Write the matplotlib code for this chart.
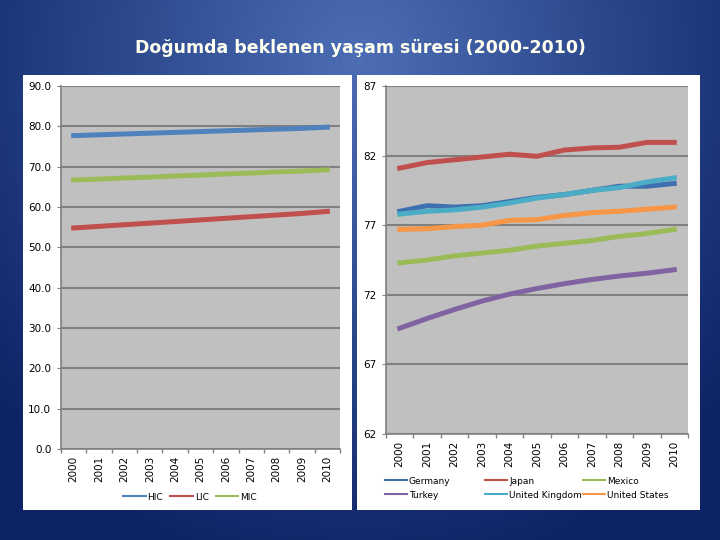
import numpy as np
import matplotlib
matplotlib.use("Agg")
import matplotlib.pyplot as plt
from matplotlib.patches import Rectangle

# ---- data ----
years = [str(y) for y in range(2000, 2011)]

# income groups (left chart)
hic = [77.7, 77.9, 78.1, 78.3, 78.5, 78.7, 78.9, 79.1, 79.3, 79.5, 79.8]
lic = [54.8, 55.2, 55.6, 56.0, 56.4, 56.8, 57.2, 57.6, 58.0, 58.4, 58.9]
mic = [66.7, 66.9, 67.2, 67.4, 67.7, 67.9, 68.2, 68.4, 68.7, 68.9, 69.2]

# countries (right chart)
germany = [78.0, 78.4, 78.3, 78.4, 78.7, 79.0, 79.2, 79.5, 79.8, 79.8, 80.0]
japan = [81.1, 81.5, 81.7, 81.9, 82.1, 81.95, 82.4, 82.55, 82.6, 82.95, 82.95]
mexico = [74.3, 74.5, 74.8, 75.0, 75.2, 75.5, 75.7, 75.9, 76.2, 76.4, 76.7]
turkey = [69.6, 70.3, 70.95, 71.55, 72.05, 72.45, 72.8, 73.1, 73.35, 73.55, 73.8]
uk = [77.8, 78.0, 78.1, 78.3, 78.6, 78.95, 79.2, 79.5, 79.7, 80.1, 80.4]
usa = [76.7, 76.75, 76.9, 77.0, 77.35, 77.4, 77.7, 77.9, 78.0, 78.15, 78.3]

title = "Doğumda beklenen yaşam süresi (2000-2010)"

plt.rcParams["font.family"] = "DejaVu Sans"

fig = plt.figure(figsize=(7.2, 5.4), dpi=100)

# background radial gradient
bg = fig.add_axes([0, 0, 1, 1], zorder=-10)
yy, xx = np.mgrid[0:540, 0:720]
d = np.sqrt(((xx - 360) / 480.0) ** 2 + ((yy - 60) / 520.0) ** 2)
d = np.clip(d, 0, 1)
c0 = np.array([0.30, 0.43, 0.71])
c1 = np.array([0.05, 0.14, 0.40])
img = c0[None, None, :] * (1 - d[..., None]) + c1[None, None, :] * d[..., None]
bg.imshow(img, aspect="auto", extent=[0, 1, 0, 1])
bg.set_axis_off()

# white chart panels
for x0, w in [(23, 329), (357, 343)]:
    fig.add_artist(Rectangle((x0 / 720, 1 - 510 / 540), w / 720, 435 / 540,
                             transform=fig.transFigure, facecolor="white",
                             edgecolor="none", zorder=-5))

fig.text(0.5, 1 - 48 / 540, title, ha="center", va="center",
         color="#FFFFF0", fontsize=12.5, fontweight="bold")

blue = "#4F81BD"
red = "#C0504D"
green = "#9BBB59"
purple = "#8064A2"
aqua = "#4BACC6"
orange = "#F79646"


def style_axes(ax, ylo, yhi, step, fmt):
    ax.set_facecolor("#C0C0C0")
    x = np.arange(len(years))
    ax.set_xlim(-0.5, len(years) - 0.5)
    ax.set_ylim(ylo, yhi)
    ax.set_yticks(np.arange(ylo, yhi + 0.01, step))
    ax.set_yticklabels([fmt.format(v) for v in np.arange(ylo, yhi + 0.01, step)])
    ax.set_xticks(x)
    ax.set_xticklabels(years, rotation=90)
    ax.set_xticks(np.arange(-0.5, len(years)), minor=True)
    ax.tick_params(axis="x", which="major", length=0, pad=5, labelsize=7.5)
    ax.tick_params(axis="x", which="minor", length=3, color="#808080", width=1)
    ax.tick_params(axis="y", length=3, color="#808080", labelsize=7.5, pad=4)
    ax.yaxis.grid(True, color="#808080", linewidth=1.5)
    ax.set_axisbelow(True)
    for s in ["top", "right"]:
        ax.spines[s].set_visible(False)
    for s in ["left", "bottom"]:
        ax.spines[s].set_color("#808080")
        ax.spines[s].set_linewidth(1.2)


# ---- left chart ----
ax1 = fig.add_axes([61 / 720, 1 - 449 / 540, 279 / 720, 363 / 540])
style_axes(ax1, 0, 90, 10, "{:.1f}")
x = np.arange(len(years))
ax1.plot(x, hic, color=blue, lw=3.6, label="HIC")
ax1.plot(x, lic, color=red, lw=3.6, label="LIC")
ax1.plot(x, mic, color=green, lw=3.6, label="MIC")
leg1 = ax1.legend(loc="center", bbox_to_anchor=(190 / 720, 1 - 497 / 540),
                  bbox_transform=fig.transFigure, ncol=3, frameon=False,
                  fontsize=6.5, handlelength=2.5, handletextpad=0.2,
                  columnspacing=0.8)
for ln in leg1.get_lines():
    ln.set_linewidth(1.5)

# ---- right chart ----
ax2 = fig.add_axes([386 / 720, 1 - 434 / 540, 302 / 720, 348 / 540])
style_axes(ax2, 62, 87, 5, "{:.0f}")
ax2.plot(x, germany, color="#3F6FAE", lw=3.6, label="Germany")
ax2.plot(x, japan, color=red, lw=3.6, label="Japan")
ax2.plot(x, mexico, color=green, lw=3.6, label="Mexico")
ax2.plot(x, turkey, color=purple, lw=3.6, label="Turkey")
ax2.plot(x, uk, color=aqua, lw=3.6, label="United Kingdom")
ax2.plot(x, usa, color=orange, lw=3.6, label="United States")

# legend: three equal-width columns like Excel, one legend per column
handles, labels = ax2.get_legend_handles_labels()
columns = [(381, [0, 3]), (481, [1, 4]), (579, [2, 5])]
for i, (xpos, idx) in enumerate(columns):
    leg = ax2.legend([handles[k] for k in idx], [labels[k] for k in idx],
                     loc="upper left", bbox_to_anchor=(xpos / 720, 1 - 473 / 540),
                     bbox_transform=fig.transFigure, frameon=False,
                     fontsize=6.5, handlelength=2.5, handletextpad=0.2,
                     labelspacing=0.55, borderaxespad=0)
    for ln in leg.get_lines():
        ln.set_linewidth(1.5)
    if i < len(columns) - 1:
        ax2.add_artist(leg)

fig.savefig("out.png", dpi=100)
